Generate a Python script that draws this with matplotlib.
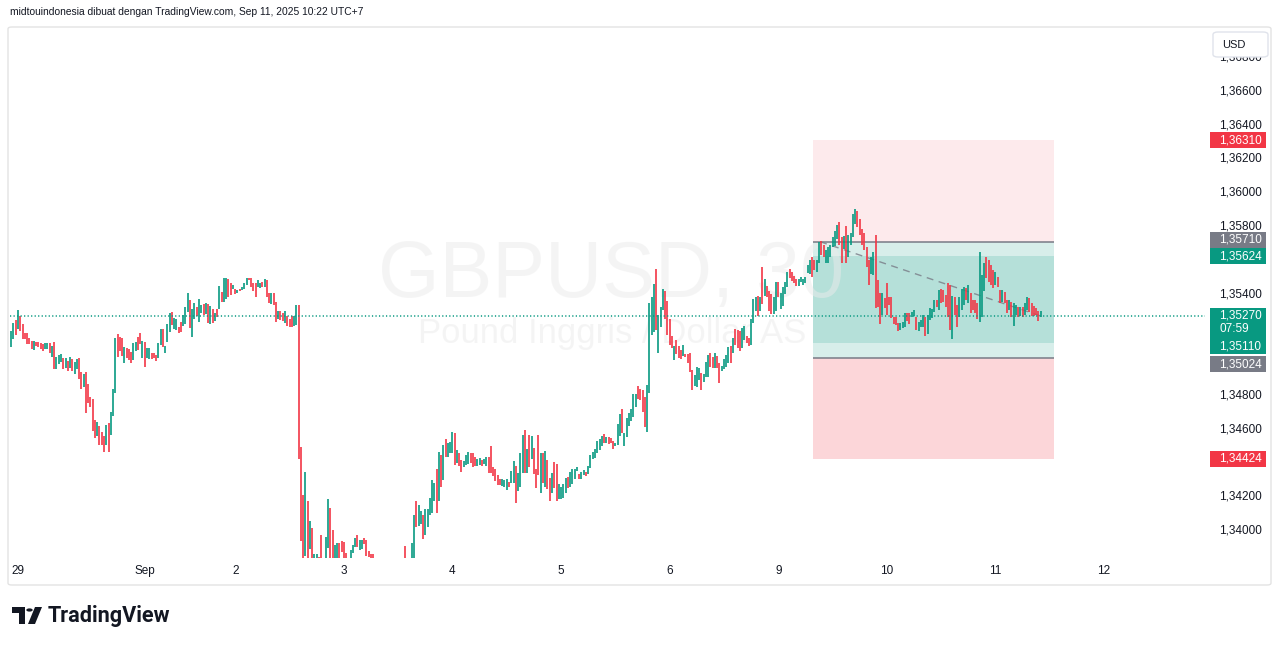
import numpy as np
import matplotlib.pyplot as plt
from matplotlib.patches import Rectangle, FancyBboxPatch, Polygon, Circle
from matplotlib.transforms import blended_transform_factory

plt.rcParams['font.family'] = ['Liberation Sans', 'DejaVu Sans']

# ==========================================
# data: GBPUSD 30m bars, price = 1.3 + value / 1e5
# bar 0 = Aug 29 00:00 (UTC+7), first visible bar is index -3
# ==========================================
first_bar = -3

dirs = (
    "ggrgrrrrrr" "grrrrggrgr" "gggrgrgrgg" "rrgrrrrrgr" "rrgrgggrrr"
    "grrrggrrgr" "ggrrrggrgg" "grggrrgggr" "ggrggrgrgr" "grgrggrrgr"
    "grgggrrrrg" "grgrrgrrgr" "rgrrrggr"
    "rrgrgrggrr" "gggrrggrrr" "rggggrggr" "r" "rrrrgrrggr" "ggrgggrggg" "grg"
    "grgggggrgr" "grgggrgrrg" "ggrrrggrgg" "rrrrrrgggr" "ggrgggrgrg"
    "rrrgrgrrgr" "rggggrgggg" "rggrgggggg" "grgrrrgggr" "ggggggrrrr"
    "ggggrgggrr" "rrgrrrgrrr" "rgggrgggrr" "grrg"
    "gggrgrrrgg" "rrgggrgrgr" "rrggrggggr" "rrrggggggr" "rggrrggggg"
    "grrgrggggr" "rrrrrggrrr" "grrrrrrrgg" "grrggrgggr" "ggggrgrrrr"
    "rgrrgggrgr" "rrrgggrrrr" "grrgrrgrgg" "rgrggrrrrr" "g"
)

lows = [
    5088, 5133, 5159, 5191, 5183, 5133, 5133, 5104, 5104, 5072,
    5068, 5092, 5084, 5072, 5060, 5072, 5076, 5048, 5029, 4956,
    4956, 4987, 4997, 4956, 4962, 4944, 4964, 4944, 4924, 4956,
    4899, 4839, 4847, 4697, 4752, 4733, 4591, 4545, 4561, 4508,
    4508, 4466, 4508, 4466, 4567, 4679, 4816, 5029, 5062, 5035,
    4993, 5023, 5009, 4993, 5009, 5060, 5066, 5104, 5023, 4970,
    5021, 5013, 5017, 5021, 5005, 5023, 5100, 5084, 5052, 5118,
    5177, 5216, 5191, 5187, 5167, 5173, 5208, 5222, 5295, 5199,
    5147, 5250, 5270, 5236, 5285, 5276, 5281, 5230, 5222, 5230,
    5242, 5266, 5309, 5352, 5354, 5368, 5380, 5392, 5431, 5400,
    5408, 5416, 5424, 5431, 5451, 5483, 5443, 5416, 5380, 5443,
    5433, 5439, 5443, 5380, 5349, 5341, 5337, 5234, 5254, 5246,
    5238, 5230, 5210, 5202, 5202, 5210, 5216, 4423,
    3937, 3800, 3849, 3810, 3892, 3815, 3835, 3830, 3815, 3800,
    3790, 3810, 3898, 3815, 3820, 3825, 3830, 3836, 3874, 3832,
    3826, 3800, 3836, 3866, 3904, 3904, 3884, 3888, 3917, 3848,
    3844, 3830, 3825, 3760, 3770, 3740, 3720, 3730, 3760, 3740,
    3750, 3770, 3750, 3760, 3780, 3790, 3815, 3790, 3800, 3820,
    3830, 4022, 4026,
    4038, 3951, 3975, 4022, 4091, 4101, 4176, 4105, 4172, 4255,
    4299, 4437, 4437, 4461, 4457, 4388, 4397, 4384, 4348, 4378,
    4388, 4393, 4401, 4378, 4384, 4384, 4386, 4384, 4393, 4384,
    4338, 4342, 4322, 4295, 4267, 4271, 4263, 4259, 4239, 4259,
    4279, 4279, 4164, 4236, 4259, 4338, 4342, 4342, 4378, 4421,
    4334, 4253, 4328, 4224, 4283, 4259, 4243, 4172, 4220, 4253,
    4176, 4188, 4188, 4192, 4220, 4251, 4255, 4275, 4303, 4350,
    4307, 4307, 4326, 4322, 4332, 4368, 4421, 4427, 4461, 4476,
    4500, 4520, 4520, 4512, 4520, 4484, 4500, 4506, 4560, 4579,
    4501, 4556, 4619, 4647, 4674, 4730, 4781, 4773, 4704, 4615,
    4580, 4812, 5158, 5178, 5187, 5049, 5205, 5306, 5250, 5160,
    5100, 5080, 5010, 5045, 5020, 5014, 5033, 5025, 4994, 4940,
    4832, 4856, 4852, 4891, 4832, 4881, 4911, 4907, 4970, 4960,
    4960, 4960, 4871, 4943,
    4954, 4966, 4990, 4990, 5050, 5100, 5080, 5060, 5080, 5130,
    5110, 5090, 5100, 5230, 5300, 5270, 5300, 5340, 5390, 5380,
    5300, 5280, 5280, 5300, 5380, 5310, 5330, 5400, 5440, 5493,
    5480, 5463, 5450, 5450, 5470, 5454, 5464, 5523, 5519, 5503,
    5542, 5533, 5582, 5631, 5621, 5582, 5582, 5621, 5681, 5685,
    5724, 5691, 5582, 5665, 5582, 5617, 5691, 5740, 5815, 5799,
    5750, 5691, 5661, 5562, 5454, 5519, 5513, 5315, 5321, 5223,
    5276, 5315, 5276, 5335, 5256, 5223, 5217, 5183, 5187, 5197,
    5207, 5242, 5223, 5262, 5270, 5187, 5183, 5203, 5207, 5152,
    5163, 5246, 5256, 5296, 5325, 5306, 5345, 5355, 5325, 5266,
    5187, 5132, 5276, 5203, 5266, 5306, 5335, 5365, 5345, 5286,
    5306, 5286, 5250, 5236, 5266, 5420, 5493, 5473, 5454, 5434,
    5454, 5440, 5345, 5355, 5345, 5286, 5306, 5266, 5213, 5276,
    5266, 5270, 5262, 5276, 5306, 5296, 5270, 5270, 5276, 5240,
    5262,
]

highs = [
    5181, 5228, 5246, 5305, 5270, 5222, 5171, 5167, 5139, 5124,
    5124, 5116, 5116, 5108, 5104, 5112, 5112, 5112, 5092, 5116,
    5029, 5039, 5045, 5019, 5021, 5005, 5029, 5017, 4997, 5013,
    5021, 4938, 4926, 4940, 4867, 4788, 4776, 4654, 4644, 4618,
    4583, 4561, 4626, 4636, 4703, 4839, 5137, 5163, 5143, 5139,
    5086, 5078, 5072, 5058, 5110, 5118, 5147, 5171, 5124, 5118,
    5078, 5082, 5052, 5048, 5041, 5112, 5191, 5191, 5092, 5222,
    5289, 5293, 5256, 5250, 5202, 5236, 5274, 5325, 5408, 5364,
    5309, 5345, 5325, 5372, 5337, 5339, 5345, 5341, 5329, 5309,
    5289, 5309, 5447, 5412, 5493, 5495, 5487, 5467, 5453, 5429,
    5424, 5431, 5443, 5467, 5495, 5495, 5495, 5463, 5463, 5483,
    5467, 5471, 5487, 5483, 5408, 5404, 5408, 5352, 5301, 5301,
    5289, 5297, 5270, 5254, 5270, 5270, 5335, 5333,
    4494, 4210, 4348, 4176, 4058, 4016, 3862, 3858, 3845, 3973,
    3825, 3963, 4186, 4135, 4002, 3913, 3923, 3927, 3937, 3931,
    3868, 3825, 3884, 3911, 3953, 3973, 3943, 3943, 3955, 3943,
    3878, 3860, 3860, 3805, 3815, 3800, 3780, 3790, 3810, 3800,
    3805, 3818, 3810, 3815, 3822, 3824, 3908, 3825, 3826, 3927,
    4091, 4174, 4151,
    4117, 4091, 4125, 4129, 4192, 4299, 4279, 4364, 4464, 4447,
    4506, 4541, 4520, 4524, 4583, 4575, 4476, 4461, 4417, 4413,
    4447, 4464, 4457, 4457, 4433, 4421, 4429, 4417, 4421, 4437,
    4435, 4500, 4374, 4366, 4330, 4307, 4305, 4299, 4307, 4287,
    4354, 4409, 4382, 4338, 4461, 4563, 4595, 4484, 4567, 4561,
    4488, 4364, 4563, 4461, 4457, 4472, 4417, 4311, 4342, 4403,
    4395, 4275, 4259, 4275, 4312, 4318, 4348, 4366, 4362, 4378,
    4334, 4348, 4358, 4348, 4382, 4449, 4466, 4480, 4532, 4540,
    4559, 4571, 4555, 4555, 4549, 4532, 4520, 4631, 4690, 4718,
    4579, 4666, 4694, 4722, 4808, 4808, 4856, 4836, 4832, 4789,
    4862, 5345, 5383, 5460, 5547, 5276, 5323, 5430, 5420, 5360,
    5250, 5150, 5090, 5125, 5090, 5070, 5098, 5045, 5045, 5049,
    4950, 4921, 4966, 4960, 4931, 4927, 5000, 5039, 5049, 5029,
    5049, 5033, 4990, 4974,
    5014, 5040, 5089, 5093, 5140, 5195, 5190, 5180, 5200, 5210,
    5150, 5140, 5250, 5370, 5380, 5390, 5380, 5560, 5490, 5450,
    5420, 5400, 5380, 5470, 5470, 5404, 5444, 5470, 5533, 5547,
    5530, 5505, 5490, 5490, 5500, 5489, 5499, 5570, 5602, 5621,
    5602, 5602, 5710, 5716, 5691, 5661, 5677, 5691, 5740, 5775,
    5809, 5825, 5740, 5744, 5803, 5750, 5760, 5874, 5904, 5892,
    5845, 5785, 5760, 5681, 5602, 5617, 5647, 5750, 5483, 5404,
    5404, 5375, 5464, 5385, 5381, 5266, 5266, 5227, 5227, 5236,
    5286, 5290, 5286, 5296, 5306, 5266, 5236, 5246, 5276, 5266,
    5276, 5315, 5310, 5365, 5365, 5424, 5428, 5424, 5394, 5464,
    5454, 5389, 5385, 5335, 5385, 5428, 5444, 5434, 5454, 5404,
    5365, 5365, 5345, 5651, 5513, 5582, 5621, 5602, 5572, 5542,
    5533, 5499, 5424, 5424, 5414, 5365, 5365, 5355, 5345, 5335,
    5325, 5325, 5325, 5349, 5381, 5375, 5345, 5329, 5315, 5300,
    5300,
]

assert len(lows) == len(highs) == len(dirs)

# day labels on the time axis (bar index of first bar of each label)
day_bars = [0, 56, 96, 144, 192, 240, 288, 336, 384, 432, 480]
day_labels = ["29", "Sep", "2", "3", "4", "5", "6", "9", "10", "11", "12"]

price_ticks = [1.340 + 0.002 * k for k in range(15)]

# long / short position drawings
pos_bars = (351.5, 458.0)
dash_bars = (354.5, 452.0)
short_entry, short_stop, short_target = 1.35710, 1.36310, 1.35110
long_entry, long_stop, long_target = 1.35024, 1.34424, 1.35624
last_price = 1.35270
countdown = "07:59"

# ==========================================
# style
# ==========================================
GREEN = '#089981'
RED = '#f23645'
GRAY = '#787b86'
TXT = '#131722'

W, H = 1281, 646
fig = plt.figure(figsize=(W / 100, H / 100), dpi=100)
fig.patch.set_facecolor('white')


def fx(px):
    return px / W


def fy(py):
    return 1 - py / H


# outer panel
fig.add_artist(FancyBboxPatch(
    (fx(8), fy(585)), fx(1271) - fx(8), fy(27) - fy(585),
    boxstyle='round,pad=0,rounding_size=0.003',
    transform=fig.transFigure, fc='white', ec='#e3e3e3', lw=1, zorder=0))

ax = fig.add_axes([fx(10), fy(558), fx(1205) - fx(10), fy(28) - fy(558)])
ax.set_xlim(-3.54, 524.6)
ax.set_ylim(1.338366, 1.369758)
ax.axis('off')

# candles
x = np.arange(len(lows)) + first_bar
lo = 1.3 + np.array(lows) / 1e5
hi = 1.3 + np.array(highs) / 1e5
cols = [GREEN if d == 'g' else RED for d in dirs]
ax.vlines(x, lo, hi, colors=cols, linewidth=1.2, zorder=4)

# position boxes
x0, x1 = pos_bars
w = x1 - x0
ax.add_patch(Rectangle((x0, short_entry), w, short_stop - short_entry,
                       fc=RED, alpha=0.10, lw=0, zorder=1))
ax.add_patch(Rectangle((x0, short_target), w, short_entry - short_target,
                       fc=GREEN, alpha=0.16, lw=0, zorder=1))
ax.add_patch(Rectangle((x0, long_stop), w, long_entry - long_stop,
                       fc=RED, alpha=0.20, lw=0, zorder=1))
ax.add_patch(Rectangle((x0, long_entry), w, long_target - long_entry,
                       fc=GREEN, alpha=0.16, lw=0, zorder=1))
ax.hlines([short_entry, long_entry], x0, x1, color=GRAY, lw=1.1, zorder=3)
ax.plot(dash_bars, [short_entry, last_price], color=GRAY, lw=1,
        ls=(0, (5, 4)), zorder=3, alpha=0.8)

# current price line
ax.axhline(last_price, color=GREEN, lw=1.1, ls=(0, (0.8, 1.5)), zorder=5)

# watermark
ax.text(fx(611), fy(297), "GBPUSD, 30", transform=fig.transFigure,
        ha='center', va='baseline', fontsize=57, color='#ebebeb',
        alpha=0.5, zorder=2, clip_on=False)
ax.text(fx(612), fy(343), "Pound Inggris / Dollar AS", transform=fig.transFigure,
        ha='center', va='baseline', fontsize=25, color='#ebebeb',
        alpha=0.5, zorder=2, clip_on=False)

# time axis labels
tx = blended_transform_factory(ax.transData, fig.transFigure)
for b, lab in zip(day_bars, day_labels):
    ax.text(b, fy(571), lab, transform=tx, ha='center', va='center',
            fontsize=8.5, color=TXT, clip_on=False)


def ypix(p):
    # display y (pixels from the bottom) of a price
    return ax.transData.transform((0, p))[1]


price_labels = [
    (short_stop, RED), (short_entry, GRAY), (long_target, GREEN),
    (short_target, GREEN), (long_entry, GRAY), (long_stop, RED),
]
label_shift = {short_entry: -2, short_target: 3, long_entry: 6.5}

# centres of the coloured labels, used to hide scale labels under them
label_centres = [ypix(p) - label_shift.get(p, 0) for p, _ in price_labels]
label_centres += [ypix(last_price) - 7]

# price axis labels
ty = blended_transform_factory(fig.transFigure, ax.transData)
for p in price_ticks:
    if min(abs(ypix(p) - c) for c in label_centres) < 12:
        continue
    ax.text(fx(1219), p, f"{p:.5f}".replace('.', ','), transform=ty,
            ha='left', va='center', fontsize=8.5, color=TXT, clip_on=False,
            zorder=3)

for p, c in price_labels:
    yc = ypix(p) - label_shift.get(p, 0)
    fig.add_artist(Rectangle((fx(1210), (yc - 8) / H), fx(1266) - fx(1210), 16 / H,
                             transform=fig.transFigure, fc=c, ec='none', zorder=5))
    fig.text(fx(1219), yc / H, f"{p:.5f}".replace('.', ','), ha='left',
             va='center', fontsize=8.5, color='white', zorder=6)

yc = ypix(last_price)
fig.add_artist(Rectangle((fx(1210), (yc - 22) / H), fx(1266) - fx(1210), 30 / H,
                         transform=fig.transFigure, fc=GREEN, ec='none', zorder=5))
fig.text(fx(1219), yc / H, f"{last_price:.5f}".replace('.', ','), ha='left',
         va='center', fontsize=8.5, color='white', zorder=6)
fig.text(fx(1219), (yc - 13) / H, countdown, ha='left',
         va='center', fontsize=8.5, color='white', zorder=6)

# currency box
fig.add_artist(FancyBboxPatch(
    (fx(1213), fy(57)), fx(1268) - fx(1213), fy(32) - fy(57),
    boxstyle='round,pad=0,rounding_size=0.004',
    transform=fig.transFigure, fc='white', ec='#e0e3eb', lw=1, zorder=7))
fig.text(fx(1222), fy(44.5), "USD", ha='left', va='center', fontsize=8,
         color=TXT, zorder=8)

# header
fig.text(fx(10), fy(12), "midtouindonesia dibuat dengan TradingView.com, "
         "Sep 11, 2025 10:22 UTC+7", ha='left', va='center', fontsize=7.4,
         color=TXT)

# TradingView logo
fig.add_artist(Polygon([(fx(12), fy(607)), (fx(25), fy(607)), (fx(25), fy(624)),
                        (fx(19), fy(624)), (fx(19), fy(613)), (fx(12), fy(613))],
                       closed=True, transform=fig.transFigure, fc='#131722', ec='none'))
fig.add_artist(Circle((fx(29.5), fy(610)), 3.2 / W, transform=fig.transFigure,
                      fc='#131722', ec='none'))
fig.add_artist(Polygon([(fx(35), fy(607)), (fx(42), fy(607)), (fx(35), fy(624)),
                        (fx(28), fy(624))],
                       closed=True, transform=fig.transFigure, fc='#131722', ec='none'))
fig.text(fx(48), fy(622), "TradingView", ha='left', va='baseline', fontsize=15.6,
         fontweight='bold', color='#131722', family=['Roboto', 'DejaVu Sans'])

fig.savefig("out.png", dpi=100)
